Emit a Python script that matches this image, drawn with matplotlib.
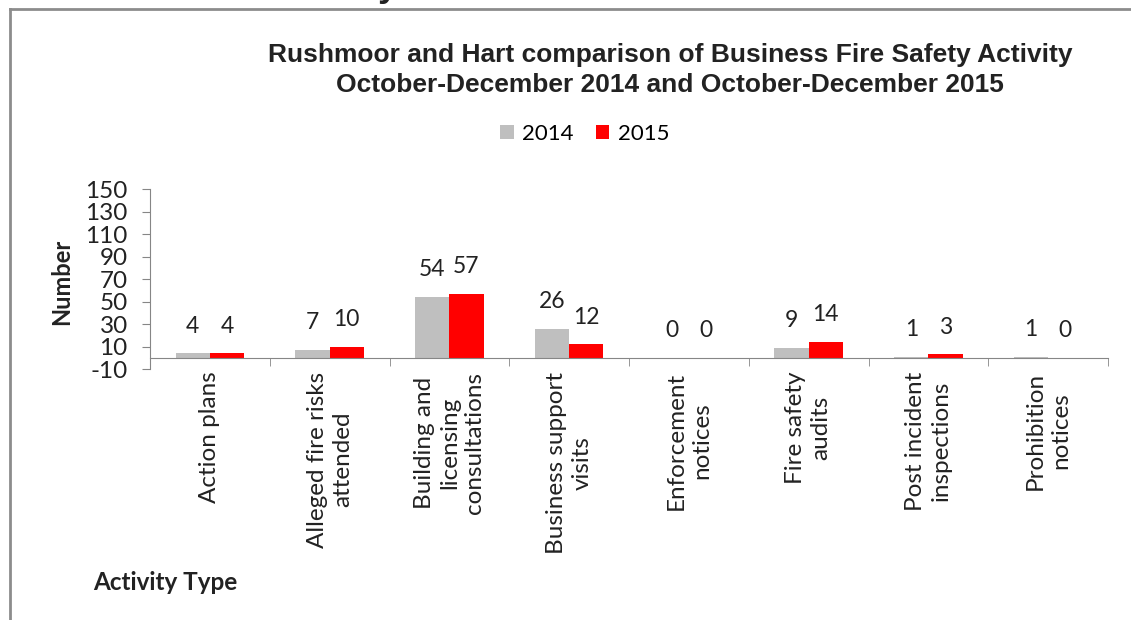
import numpy as np
import matplotlib.pyplot as plt
from matplotlib.lines import Line2D


# Chart data
categories = ["Action plans", "Alleged fire risks\nattended", "Building and\nlicensing\nconsultations",
              "Business support\nvisits", "Enforcement\nnotices", "Fire safety\naudits",
              "Post incident\ninspections", "Prohibition\nnotices"]
values_2014 = [4, 7, 54, 26, 0, 9, 1, 1]
values_2015 = [4, 10, 57, 12, 0, 14, 3, 0]
series_names = ["2014", "2015"]
y_ticks = [-10, 10, 30, 50, 70, 90, 110, 130, 150]

title = ("Rushmoor and Hart comparison of Business Fire Safety Activity\n"
         "October-December 2014 and October-December 2015")

body_font = "Lato"
title_font = "Liberation Sans"
grey = "#bfbfbf"
red = "#ff0000"
axis_grey = "#868686"

W, H = 1131, 620
fig = plt.figure(figsize=(W / 100, H / 100), dpi=100)
fig.patch.set_facecolor("white")

# Axes placement (pixels from the reference)
left, right, top, bottom = 150, 1108, 189, 369
ax = fig.add_axes([left / W, 1 - bottom / H, (right - left) / W, (bottom - top) / H])

x = np.arange(len(categories))
w = 0.285
b1 = ax.bar(x - w / 2, values_2014, w, color=grey, label=series_names[0], zorder=2)
b2 = ax.bar(x + w / 2, values_2015, w, color=red, label=series_names[1], zorder=2)

for bars in (b1, b2):
    ax.bar_label(bars, padding=12, fontsize=16.5, family=body_font, color="#222222")

ax.set_xlim(-0.5, len(categories) - 0.5)
ax.set_ylim(-10, 150)
ax.set_yticks(y_ticks)
ax.set_yticklabels([str(v) for v in y_ticks], fontsize=17.5, family=body_font, color="#222222")

ax.spines["top"].set_visible(False)
ax.spines["right"].set_visible(False)
ax.spines["left"].set_color(axis_grey)
ax.spines["bottom"].set_color(axis_grey)
ax.spines["bottom"].set_position(("data", 0))
ax.tick_params(axis="y", direction="out", length=6, color=axis_grey, pad=10)

# category labels at centres, tick marks at boundaries
ax.set_xticks(x)
ax.set_xticklabels(categories, rotation=90, ha="center", va="top", fontsize=17.5,
                   family=body_font, color="#222222", multialignment="center", linespacing=1.25)
ax.tick_params(axis="x", which="major", length=0, pad=10)
ax.set_xticks(np.arange(len(categories) + 1) - 0.5, minor=True)
ax.tick_params(axis="x", which="minor", length=6, color=axis_grey, direction="out")

# Title, legend and axis titles
fig.text(670 / W, 1 - 70 / H, title, ha="center", va="center", fontsize=19,
         fontweight="bold", family=title_font, color="#222222", linespacing=1.35)
fig.legend(handles=[b1, b2], loc="center", bbox_to_anchor=(585 / W, 1 - 134 / H), ncol=2,
           frameon=False, prop={"family": body_font, "size": 16}, handlelength=0.6,
           handleheight=0.6, handletextpad=0.4, columnspacing=1.0)
fig.text(62 / W, 1 - 282 / H, "Number", rotation=90, ha="center", va="center",
         fontsize=17, fontweight="bold", family=body_font, color="#222222")
fig.text(93 / W, 1 - 583 / H, "Activity Type", ha="left", va="center",
         fontsize=17.5, fontweight="bold", family=body_font, color="#222222")

# frame of the surrounding box and the cut-off heading above it
fig.add_artist(Line2D([10 / W, 10 / W], [0, 1 - 9 / H], color="#8c8c8c", lw=2))
fig.add_artist(Line2D([10 / W, 1], [1 - 9 / H, 1 - 9 / H], color="#8c8c8c", lw=2))
fig.text(388 / W, 1 + 14 / H, "y", ha="center", va="center", fontsize=26,
         fontweight="bold", family=title_font, color="#222222")

fig.savefig("out.png", dpi=100, facecolor="white")
